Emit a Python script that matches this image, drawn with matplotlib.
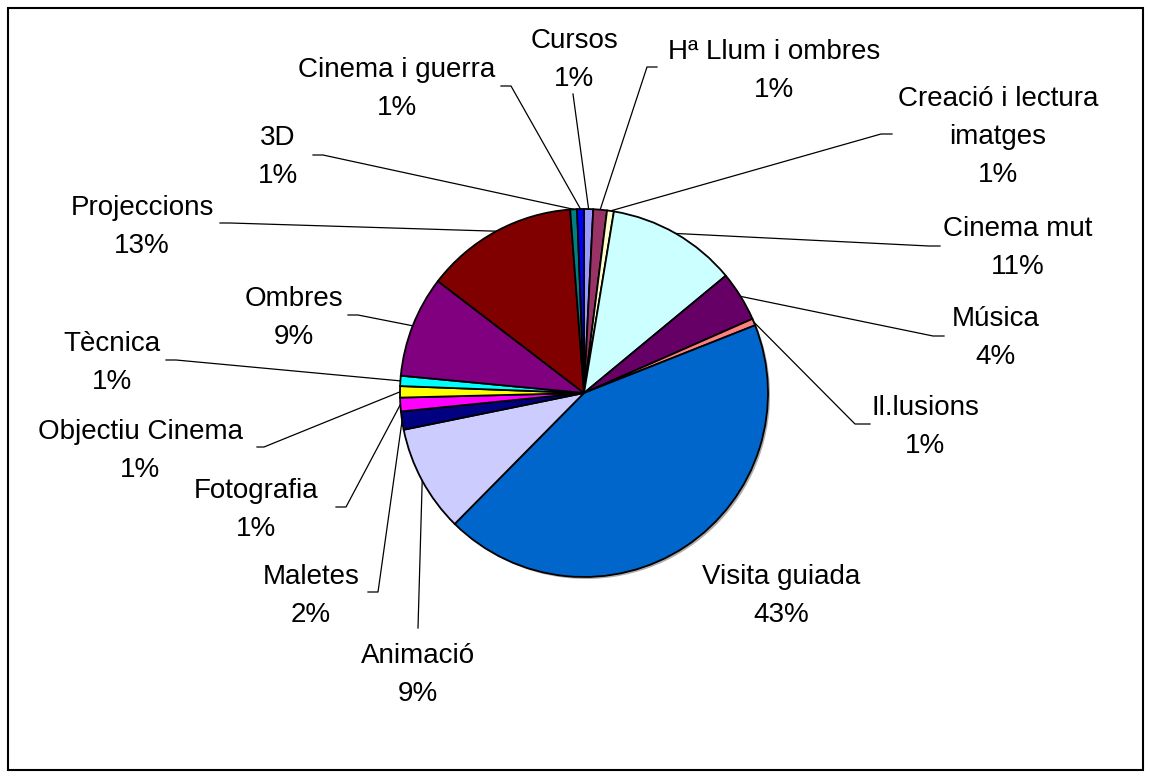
import math
import matplotlib
matplotlib.use('Agg')
import matplotlib.pyplot as plt
from matplotlib.patches import Circle, Rectangle

# ---- data (clockwise from 12 o'clock) ----
categories = ["Cursos", "Hª Llum i ombres", "Creació i lectura\nimatges", "Cinema mut",
              "Música", "Il.lusions", "Visita guiada", "Animació", "Maletes",
              "Fotografia", "Objectiu Cinema", "Tècnica", "Ombres", "Projeccions",
              "3D", "Cinema i guerra"]
values = [0.8, 1.2, 0.6, 11.4, 4.4, 0.6, 43.4, 9.4, 1.6, 1.2, 1.0, 0.9, 8.9, 13.4, 0.6, 0.6]
colors = ["#9999FF", "#993366", "#FFFFCC", "#CCFFFF", "#660066", "#FF8080", "#0066CC",
          "#CCCCFF", "#000080", "#FF00FF", "#FFFF00", "#00FFFF", "#800080", "#800000",
          "#008080", "#0000FF"]

# ---- layout (image pixel coords, y downward) ----
label_pos = [(574, 60), (774, 71), (998, 137), (1018, 248), (996, 338), (925, 427),
             (781, 596), (418, 675), (311, 596), (256, 510), (140, 451), (112, 363),
             (294, 318), (142, 227), (278, 157), (397, 89)]
# (label side x, y, stub end x) ; stub None -> straight line from point
leaders = [(573, 94, None), (657, 67, 647), (892, 134, 881), (940, 246, 929),
           (944, 336, 933), (870, 424, 855), None, (418, 628, None),
           (368, 592, 378), (336, 507, 346), (257, 447, 264), (166, 360, 176),
           (348, 315, 358), (220, 223, 230), (313, 155, 323), (501, 86, 511)]

W, H = 1150, 776
fig = plt.figure(figsize=(11.5, 7.76), dpi=100)
ax = fig.add_axes([0, 0, 1, 1])


def Y(y):
    return H - y


cx, cy, r = 584, 393, 184
# soft shadow
ax.add_patch(Circle((cx + 2, Y(cy) - 2), r, color="#777777", alpha=0.6, zorder=0, lw=0))
wedges, _ = ax.pie(values, colors=colors, startangle=90, counterclock=False,
                   center=(cx, Y(cy)), radius=r, frame=True,
                   wedgeprops=dict(edgecolor="black", linewidth=1.3, zorder=2))
ax.set_xlim(0, W)
ax.set_ylim(0, H)
ax.set_aspect("equal")
ax.axis("off")

total = sum(values)
font = ["Liberation Sans", "DejaVu Sans"]
for i, (name, v) in enumerate(zip(categories, values)):
    pct = int(v / total * 100 + 0.5)
    lx, ly = label_pos[i]
    ax.text(lx, Y(ly), f"{name}\n{pct}%", ha="center", va="center",
            multialignment="center", fontsize=20, family=font, linespacing=1.58,
            color="black", zorder=5)
    ld = leaders[i]
    if ld is None:
        continue
    w = wedges[i]
    mid = math.radians((w.theta1 + w.theta2) / 2)
    px = cx + r * math.cos(mid)
    py = Y(cy) + r * math.sin(mid)
    x0, y0, xs = ld
    if xs is None:
        xl = [x0, px]
        yl = [Y(y0), py]
    else:
        xl = [x0, xs, px]
        yl = [Y(y0), Y(y0), py]
    ax.plot(xl, yl, color="black", lw=0.9, zorder=1)

# outer frame
fig.patches.append(Rectangle((8 / W, 1 - 770 / H), (1143 - 8) / W, (770 - 8) / H,
                             transform=fig.transFigure, fill=False, edgecolor="black",
                             linewidth=1.5))

fig.savefig("out.png", dpi=100, facecolor="white")
